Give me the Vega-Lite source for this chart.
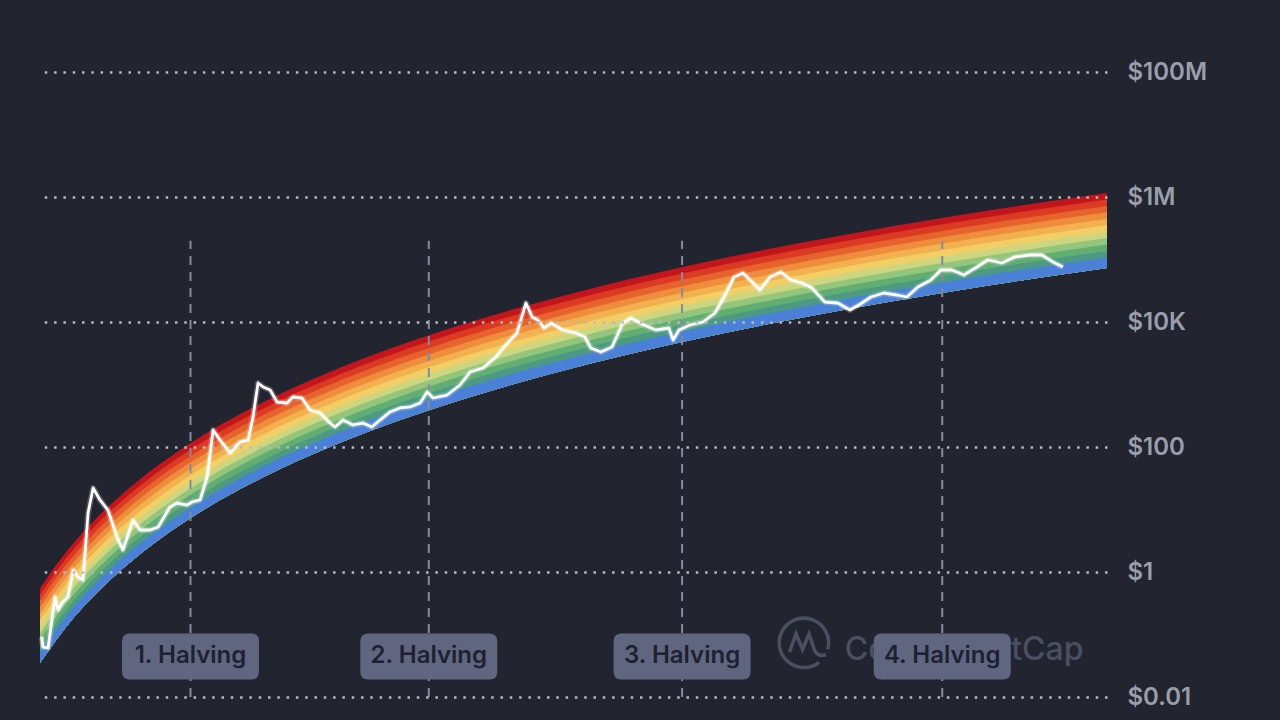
{
  "$schema": "https://vega.github.io/schema/vega-lite/v6.json",
  "width": 1067,
  "height": 625,
  "autosize": {"type": "none"},
  "padding": {"left": 40, "top": 72, "right": 173, "bottom": 23},
  "background": "#22242f",
  "config": {"view": {"stroke": null}, "font": "Inter"},
  "datasets": {
    "bands": [
      {"d": "2010-08-18", "e0": 0.035, "e1": 0.0518, "e2": 0.0656, "e3": 0.0832, "e4": 0.105, "e5": 0.134, "e6": 0.169, "e7": 0.215, "e8": 0.272, "e9": 0.345, "e10": 0.438, "e11": 0.555},
      {"d": "2011-01-01", "e0": 0.123, "e1": 0.181, "e2": 0.23, "e3": 0.292, "e4": 0.37, "e5": 0.469, "e6": 0.594, "e7": 0.753, "e8": 0.955, "e9": 1.21, "e10": 1.53, "e11": 1.94},
      {"d": "2011-07-01", "e0": 0.473, "e1": 0.7, "e2": 0.887, "e3": 1.12, "e4": 1.43, "e5": 1.81, "e6": 2.29, "e7": 2.9, "e8": 3.68, "e9": 4.67, "e10": 5.92, "e11": 7.5},
      {"d": "2012-01-01", "e0": 1.45, "e1": 2.14, "e2": 2.72, "e3": 3.44, "e4": 4.37, "e5": 5.53, "e6": 7.01, "e7": 8.89, "e8": 11.3, "e9": 14.3, "e10": 18.1, "e11": 23},
      {"d": "2012-07-01", "e0": 3.7, "e1": 5.47, "e2": 6.93, "e3": 8.79, "e4": 11.1, "e5": 14.1, "e6": 17.9, "e7": 22.7, "e8": 28.8, "e9": 36.5, "e10": 46.2, "e11": 58.6},
      {"d": "2013-01-01", "e0": 8.38, "e1": 12.4, "e2": 15.7, "e3": 19.9, "e4": 25.2, "e5": 32, "e6": 40.5, "e7": 51.4, "e8": 65.2, "e9": 82.6, "e10": 105, "e11": 133},
      {"d": "2014-01-01", "e0": 32.5, "e1": 48.1, "e2": 61, "e3": 77.3, "e4": 98, "e5": 124, "e6": 157, "e7": 200, "e8": 253, "e9": 321, "e10": 406, "e11": 515},
      {"d": "2015-01-01", "e0": 98.4, "e1": 146, "e2": 185, "e3": 234, "e4": 296, "e5": 376, "e6": 476, "e7": 604, "e8": 766, "e9": 971, "e10": 1230, "e11": 1560},
      {"d": "2016-01-01", "e0": 251, "e1": 372, "e2": 471, "e3": 597, "e4": 757, "e5": 959, "e6": 1220, "e7": 1540, "e8": 1950, "e9": 2480, "e10": 3140, "e11": 3980},
      {"d": "2017-01-01", "e0": 566, "e1": 837, "e2": 1060, "e3": 1350, "e4": 1710, "e5": 2160, "e6": 2740, "e7": 3480, "e8": 4410, "e9": 5580, "e10": 7080, "e11": 8970},
      {"d": "2019-01-01", "e0": 2200, "e1": 3250, "e2": 4120, "e3": 5220, "e4": 6620, "e5": 8400, "e6": 10600, "e7": 13500, "e8": 17100, "e9": 21700, "e10": 27500, "e11": 34800},
      {"d": "2021-01-01", "e0": 6670, "e1": 9860, "e2": 12500, "e3": 15800, "e4": 20100, "e5": 25500, "e6": 32300, "e7": 40900, "e8": 51900, "e9": 65800, "e10": 83400, "e11": 106000},
      {"d": "2023-01-01", "e0": 17000, "e1": 25100, "e2": 31800, "e3": 40400, "e4": 51200, "e5": 64900, "e6": 82200, "e7": 104000, "e8": 132000, "e9": 167000, "e10": 212000, "e11": 269000},
      {"d": "2025-01-01", "e0": 38300, "e1": 56600, "e2": 71800, "e3": 91000, "e4": 115000, "e5": 146000, "e6": 185000, "e7": 235000, "e8": 298000, "e9": 378000, "e10": 479000, "e11": 607000},
      {"d": "2026-10-19", "e0": 73100, "e1": 108000, "e2": 137000, "e3": 174000, "e4": 220000, "e5": 279000, "e6": 354000, "e7": 449000, "e8": 569000, "e9": 721000, "e10": 914000, "e11": 1160000}
    ],
    "price": [
      {"d": "2010-08-27", "p": 0.092}, {"d": "2010-09-04", "p": 0.063}, {"d": "2010-10-02", "p": 0.061},
      {"d": "2010-11-09", "p": 0.40}, {"d": "2010-11-26", "p": 0.247}, {"d": "2010-12-18", "p": 0.319},
      {"d": "2011-01-20", "p": 0.40}, {"d": "2011-02-17", "p": 1.08}, {"d": "2011-03-16", "p": 0.83},
      {"d": "2011-04-13", "p": 0.745}, {"d": "2011-05-11", "p": 8.8}, {"d": "2011-06-08", "p": 22.1},
      {"d": "2011-07-16", "p": 14.2}, {"d": "2011-08-29", "p": 9.8}, {"d": "2011-10-18", "p": 3.63},
      {"d": "2011-11-20", "p": 2.25}, {"d": "2012-01-15", "p": 6.79}, {"d": "2012-02-23", "p": 4.70},
      {"d": "2012-04-19", "p": 4.70}, {"d": "2012-06-02", "p": 5.25}, {"d": "2012-08-07", "p": 11.0},
      {"d": "2012-09-15", "p": 12.7}, {"d": "2012-11-09", "p": 11.8}, {"d": "2012-12-07", "p": 13.2},
      {"d": "2013-01-20", "p": 14.2}, {"d": "2013-02-28", "p": 33.1}, {"d": "2013-04-02", "p": 187},
      {"d": "2013-05-11", "p": 129}, {"d": "2013-07-05", "p": 80.2}, {"d": "2013-08-29", "p": 120},
      {"d": "2013-10-13", "p": 129}, {"d": "2013-11-09", "p": 302}, {"d": "2013-12-07", "p": 1057},
      {"d": "2014-01-04", "p": 912}, {"d": "2014-02-12", "p": 817}, {"d": "2014-03-22", "p": 525},
      {"d": "2014-05-16", "p": 506}, {"d": "2014-06-18", "p": 631}, {"d": "2014-08-07", "p": 608},
      {"d": "2014-09-21", "p": 391}, {"d": "2014-11-15", "p": 350}, {"d": "2015-01-09", "p": 242},
      {"d": "2015-02-06", "p": 209}, {"d": "2015-03-22", "p": 270}, {"d": "2015-05-16", "p": 225},
      {"d": "2015-07-10", "p": 242}, {"d": "2015-08-29", "p": 209}, {"d": "2015-10-13", "p": 270},
      {"d": "2015-12-07", "p": 363}, {"d": "2016-02-01", "p": 421}, {"d": "2016-03-27", "p": 437},
      {"d": "2016-05-22", "p": 506}, {"d": "2016-06-30", "p": 759}, {"d": "2016-08-02", "p": 608},
      {"d": "2016-10-18", "p": 679}, {"d": "2016-12-29", "p": 982}, {"d": "2017-02-23", "p": 1585},
      {"d": "2017-05-05", "p": 1837}, {"d": "2017-07-16", "p": 2754}, {"d": "2017-08-29", "p": 3981},
      {"d": "2017-11-09", "p": 6668}, {"d": "2017-12-12", "p": 13930}, {"d": "2017-12-29", "p": 20140},
      {"d": "2018-02-01", "p": 12020}, {"d": "2018-03-05", "p": 10760}, {"d": "2018-04-08", "p": 8017},
      {"d": "2018-05-16", "p": 9638}, {"d": "2018-07-21", "p": 7447}, {"d": "2018-10-02", "p": 6668},
      {"d": "2018-11-20", "p": 5754}, {"d": "2018-12-23", "p": 3837}, {"d": "2019-02-17", "p": 3311},
      {"d": "2019-04-19", "p": 3981}, {"d": "2019-06-18", "p": 9638}, {"d": "2019-08-02", "p": 11590},
      {"d": "2019-10-13", "p": 8954}, {"d": "2019-12-18", "p": 7447}, {"d": "2020-02-28", "p": 8017},
      {"d": "2020-03-22", "p": 5152}, {"d": "2020-04-24", "p": 7447}, {"d": "2020-06-24", "p": 8954},
      {"d": "2020-09-04", "p": 10000}, {"d": "2020-11-09", "p": 13930}, {"d": "2020-12-29", "p": 25120},
      {"d": "2021-02-23", "p": 52480}, {"d": "2021-04-13", "p": 60810}, {"d": "2021-06-08", "p": 42070},
      {"d": "2021-07-16", "p": 32510}, {"d": "2021-09-10", "p": 52480}, {"d": "2021-11-09", "p": 63100},
      {"d": "2022-01-04", "p": 46990}, {"d": "2022-03-05", "p": 42070}, {"d": "2022-04-30", "p": 34990},
      {"d": "2022-07-10", "p": 20890}, {"d": "2022-09-20", "p": 20140}, {"d": "2022-11-26", "p": 15560},
      {"d": "2023-01-15", "p": 18710}, {"d": "2023-03-22", "p": 25120}, {"d": "2023-06-02", "p": 29110},
      {"d": "2023-08-13", "p": 27040}, {"d": "2023-10-07", "p": 25120}, {"d": "2023-12-07", "p": 36310},
      {"d": "2024-02-17", "p": 46990}, {"d": "2024-04-13", "p": 67920}, {"d": "2024-06-13", "p": 67920},
      {"d": "2024-08-18", "p": 56490}, {"d": "2024-10-29", "p": 75860}, {"d": "2024-12-29", "p": 98170},
      {"d": "2025-03-16", "p": 87900}, {"d": "2025-05-27", "p": 109600}, {"d": "2025-08-18", "p": 118000},
      {"d": "2025-10-24", "p": 118000}, {"d": "2025-12-24", "p": 91200}, {"d": "2026-02-17", "p": 75860}
    ],
    "halvings": [
      {"d": "2012-11-28", "label": "1. Halving"},
      {"d": "2016-07-09", "label": "2. Halving"},
      {"d": "2020-05-11", "label": "3. Halving"},
      {"d": "2024-04-20", "label": "4. Halving"}
    ],
    "brand": [{"t": "CoinMarketCap"}]
  },
  "layer": [
    {
      "encoding": {
        "x": {"field": "d", "type": "temporal", "axis": null,
          "scale": {"domain": [{"year": 2010, "month": 8, "date": 18, "utc": true}, {"year": 2026, "month": 10, "date": 19, "utc": true}]}}
      },
      "layer": [
        {"data": {"name": "bands"}, "mark": {"type": "area", "interpolate": "monotone", "color": "#c3161c", "opacity": 1},
         "encoding": {"y": {"field": "e11", "type": "quantitative",
            "scale": {"type": "log", "domain": [0.01, 100000000], "nice": false},
            "axis": {"orient": "right", "values": [0.01, 1, 100, 10000, 1000000, 100000000],
              "labelExpr": "datum.value >= 1000000 ? '$' + (datum.value / 1000000) + 'M' : datum.value >= 1000 ? '$' + (datum.value / 1000) + 'K' : '$' + datum.value",
              "title": null, "ticks": false, "domain": false, "grid": true, "gridColor": "#b6b9c2", "gridWidth": 2.5, "gridDash": [2.5, 6.8],
              "labelFont": "Inter", "labelFontSize": 24, "labelFontWeight": 600, "labelColor": "#9a9eab", "labelPadding": 20, "zindex": 1}},
            "y2": {"field": "e0"}}},
        {"data": {"name": "bands"}, "mark": {"type": "area", "interpolate": "monotone", "color": "#db3b22", "opacity": 1},
         "encoding": {"y": {"field": "e10", "type": "quantitative"}, "y2": {"field": "e0"}}},
        {"data": {"name": "bands"}, "mark": {"type": "area", "interpolate": "monotone", "color": "#e6632e", "opacity": 1},
         "encoding": {"y": {"field": "e9", "type": "quantitative"}, "y2": {"field": "e0"}}},
        {"data": {"name": "bands"}, "mark": {"type": "area", "interpolate": "monotone", "color": "#ee8d3c", "opacity": 1},
         "encoding": {"y": {"field": "e8", "type": "quantitative"}, "y2": {"field": "e0"}}},
        {"data": {"name": "bands"}, "mark": {"type": "area", "interpolate": "monotone", "color": "#f2b04f", "opacity": 1},
         "encoding": {"y": {"field": "e7", "type": "quantitative"}, "y2": {"field": "e0"}}},
        {"data": {"name": "bands"}, "mark": {"type": "area", "interpolate": "monotone", "color": "#f1cf66", "opacity": 1},
         "encoding": {"y": {"field": "e6", "type": "quantitative"}, "y2": {"field": "e0"}}},
        {"data": {"name": "bands"}, "mark": {"type": "area", "interpolate": "monotone", "color": "#cdd67f", "opacity": 1},
         "encoding": {"y": {"field": "e5", "type": "quantitative"}, "y2": {"field": "e0"}}},
        {"data": {"name": "bands"}, "mark": {"type": "area", "interpolate": "monotone", "color": "#93c67c", "opacity": 1},
         "encoding": {"y": {"field": "e4", "type": "quantitative"}, "y2": {"field": "e0"}}},
        {"data": {"name": "bands"}, "mark": {"type": "area", "interpolate": "monotone", "color": "#62ad72", "opacity": 1},
         "encoding": {"y": {"field": "e3", "type": "quantitative"}, "y2": {"field": "e0"}}},
        {"data": {"name": "bands"}, "mark": {"type": "area", "interpolate": "monotone", "color": "#4c9a83", "opacity": 1},
         "encoding": {"y": {"field": "e2", "type": "quantitative"}, "y2": {"field": "e0"}}},
        {"data": {"name": "bands"}, "mark": {"type": "area", "interpolate": "monotone", "color": "#4a80d8", "opacity": 1},
         "encoding": {"y": {"field": "e1", "type": "quantitative"}, "y2": {"field": "e0"}}},
        {"data": {"name": "halvings"}, "mark": {"type": "rule", "color": "#868a9c", "strokeWidth": 2, "strokeDash": [9, 7]},
         "encoding": {"y": {"datum": 0.01, "type": "quantitative"}, "y2": {"datum": 200000}}},
        {"data": {"name": "price"}, "mark": {"type": "line", "color": "#ffffff", "strokeWidth": 6, "opacity": 0.22, "strokeJoin": "round"},
         "encoding": {"y": {"field": "p", "type": "quantitative"}}},
        {"data": {"name": "price"}, "mark": {"type": "line", "color": "#ffffff", "strokeWidth": 2.8, "opacity": 1, "strokeJoin": "round"},
         "encoding": {"y": {"field": "p", "type": "quantitative"}}}
      ]
    },
    {"data": {"name": "brand"}, "mark": {"type": "point", "filled": false, "opacity": 1, "color": "#4b4f62", "strokeWidth": 3.5, "size": 2704,
       "shape": "M0.59,0.74 A0.95,0.95 0 1 1 0.92,0.24 M-0.55,0.35 L-0.3,-0.35 L-0.05,0.25 L0.2,-0.35 L0.4,0.25 Q0.5,0.55 0.85,0.45"},
     "encoding": {"x": {"datum": {"year": 2022, "month": 3, "date": 16, "utc": true}, "type": "temporal"},
       "y": {"datum": 0.073, "type": "quantitative"}}},
    {"data": {"name": "brand"}, "mark": {"type": "text", "align": "left", "baseline": "middle", "font": "Inter", "fontSize": 32, "fontWeight": 500, "color": "#4b4f62"},
     "encoding": {"x": {"datum": {"year": 2022, "month": 10, "date": 29, "utc": true}, "type": "temporal"},
       "y": {"datum": 0.0565, "type": "quantitative"}, "text": {"field": "t"}}},
    {
      "data": {"name": "halvings"},
      "encoding": {
        "x": {"field": "d", "type": "temporal"},
        "y": {"datum": 0.0445, "type": "quantitative"}
      },
      "layer": [
        {"mark": {"type": "point", "filled": true, "opacity": 1, "color": "#60667f", "strokeWidth": 0, "size": 18769,
           "shape": "M-0.883,-0.336 L0.883,-0.336 Q1,-0.336 1,-0.219 L1,0.219 Q1,0.336 0.883,0.336 L-0.883,0.336 Q-1,0.336 -1,0.219 L-1,-0.219 Q-1,-0.336 -0.883,-0.336 Z"}},
        {"mark": {"type": "text", "align": "center", "baseline": "middle", "font": "Inter", "fontSize": 24, "fontWeight": 600, "color": "#1d2133"},
         "encoding": {"text": {"field": "label"}}}
      ]
    }
  ]
}
